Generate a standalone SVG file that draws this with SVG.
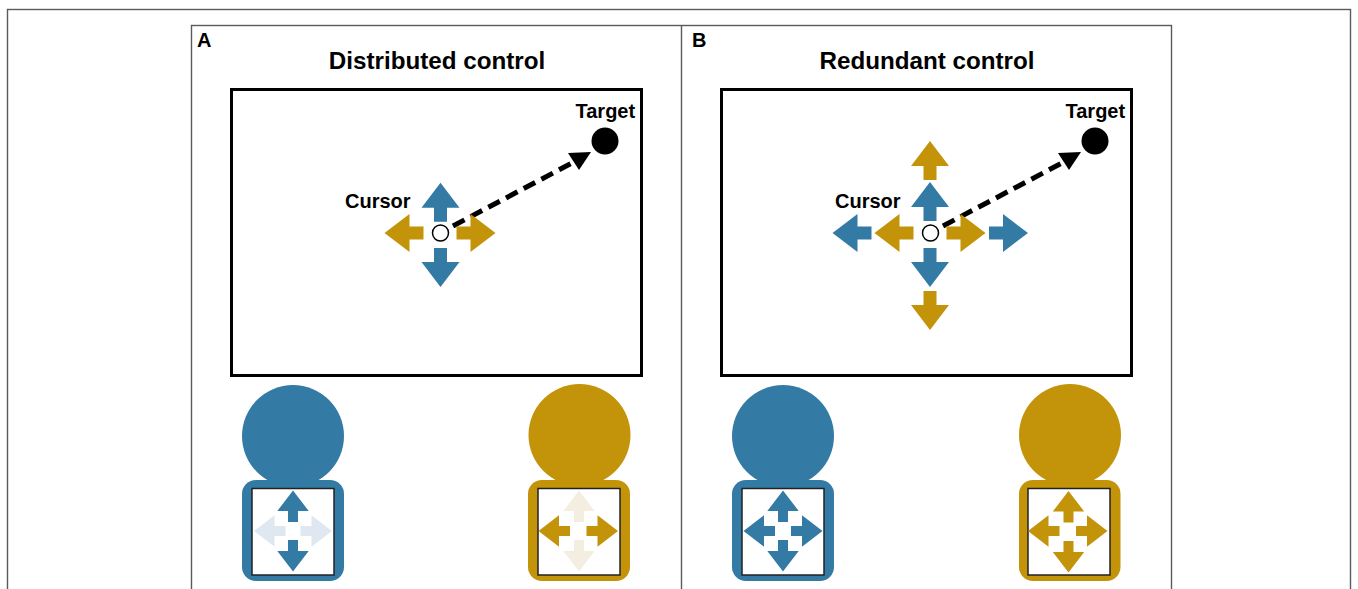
<svg xmlns="http://www.w3.org/2000/svg" xmlns:xlink="http://www.w3.org/1999/xlink" width="1358" height="589" viewBox="0 0 1358 589">
<style>
text{font-family:"Liberation Sans",Arial,sans-serif;font-weight:bold;fill:#000}
.title{font-size:24.2px;text-anchor:middle}
.label{font-size:20px}
.tag{font-size:20px}
.frame{fill:none;stroke:#5a5a5a;stroke-width:1.4}
.screen{fill:#fff;stroke:#000;stroke-width:3}
.blue{fill:#337aa5}
.gold{fill:#c39309}
.paleblue{fill:#dfe8f1}
.palegold{fill:#f3eee0}
.inner{fill:#fff;stroke:#222;stroke-width:1.5}
.cur{fill:#fff;stroke:#000;stroke-width:1.5}
.dash{fill:none;stroke:#000;stroke-width:5;stroke-dasharray:13 7}
</style>
<defs>
<path id="big" d="M0,-6.5H14V-19L39,0L14,19V6.5H0Z"/>
<path id="mini" d="M0,-5H11V-15.700L31.500,0L11,15.700V5H0Z"/>
</defs>
<rect width="1358" height="589" fill="#fff"/>
<g id="frames">
<rect class="frame" x="7.5" y="9.5" width="1343" height="600"/>
<rect class="frame" x="191.5" y="25.5" width="980" height="600"/>
<line class="frame" x1="681.5" y1="25" x2="681.5" y2="589"/>
</g>
<g id="panel-a-screen">
<rect class="screen" x="231.5" y="89.5" width="410" height="286"/>
<text class="tag" x="197" y="47">A</text>
<text class="title" x="437" y="69">Distributed control</text>
</g>
<g id="panel-b-screen">
<rect class="screen" x="721.5" y="89.5" width="410" height="286"/>
<text class="tag" x="692" y="47">B</text>
<text class="title" x="927" y="69">Redundant control</text>
</g>
<g id="connectors">
<line class="dash" x1="453" y1="226" x2="571" y2="163.500"/>
<path d="M568,153L591,152L579,170Z" fill="#000"/>
<line class="dash" x1="943" y1="226" x2="1061" y2="163.500"/>
<path d="M1058,153L1081,152L1069,170Z" fill="#000"/>
</g>
<g id="cursor-a">
<use xlink:href="#big" class="blue" transform="translate(440.5,221.7) rotate(-90)"/>
<use xlink:href="#big" class="blue" transform="translate(440.5,248) rotate(90)"/>
<use xlink:href="#big" class="gold" transform="translate(423.5,233) rotate(180)"/>
<use xlink:href="#big" class="gold" transform="translate(456.5,233)"/>
<circle class="cur" cx="440.5" cy="233" r="8"/>
<text class="label" x="345" y="208">Cursor</text>
</g>
<g id="target-a">
<circle cx="605" cy="141" r="13.5" fill="#000"/>
<text class="label" x="575.5" y="118">Target</text>
</g>
<g id="cursor-b">
<use xlink:href="#big" class="gold" transform="translate(930,180) rotate(-90)"/>
<use xlink:href="#big" class="blue" transform="translate(930,221) rotate(-90)"/>
<use xlink:href="#big" class="blue" transform="translate(930,248) rotate(90)"/>
<use xlink:href="#big" class="gold" transform="translate(930,291) rotate(90)"/>
<use xlink:href="#big" class="blue" transform="translate(871.5,233) rotate(180)"/>
<use xlink:href="#big" class="gold" transform="translate(913.5,233) rotate(180)"/>
<use xlink:href="#big" class="gold" transform="translate(946.5,233)"/>
<use xlink:href="#big" class="blue" transform="translate(989,233)"/>
<circle class="cur" cx="930.5" cy="233" r="8"/>
<text class="label" x="835" y="208">Cursor</text>
</g>
<g id="target-b">
<circle cx="1095" cy="141" r="13.5" fill="#000"/>
<text class="label" x="1065.5" y="118">Target</text>
</g>
<g id="player-a-blue">
<circle class="blue" cx="293" cy="436" r="51"/>
<rect class="blue" x="242" y="480" width="102" height="101" rx="14"/>
<rect class="inner" x="252" y="488.5" width="82" height="86.5"/>
<use xlink:href="#mini" class="blue" transform="translate(293,522) rotate(-90)"/>
<use xlink:href="#mini" class="blue" transform="translate(293,540) rotate(90)"/>
<use xlink:href="#mini" class="paleblue" transform="translate(285.5,531) rotate(180)"/>
<use xlink:href="#mini" class="paleblue" transform="translate(300.5,531)"/>
</g>
<g id="player-a-gold">
<circle class="gold" cx="579.5" cy="435" r="51"/>
<rect class="gold" x="528" y="480" width="102" height="101" rx="14"/>
<rect class="inner" x="538" y="488.5" width="82" height="86.5"/>
<use xlink:href="#mini" class="palegold" transform="translate(579,522) rotate(-90)"/>
<use xlink:href="#mini" class="palegold" transform="translate(579,540) rotate(90)"/>
<use xlink:href="#mini" class="gold" transform="translate(570,531) rotate(180)"/>
<use xlink:href="#mini" class="gold" transform="translate(586.5,531)"/>
</g>
<g id="player-b-blue">
<circle class="blue" cx="783" cy="436" r="51"/>
<rect class="blue" x="732" y="480" width="102" height="101" rx="14"/>
<rect class="inner" x="742" y="488.5" width="82" height="86.5"/>
<use xlink:href="#mini" class="blue" transform="translate(783,522) rotate(-90)"/>
<use xlink:href="#mini" class="blue" transform="translate(783,540) rotate(90)"/>
<use xlink:href="#mini" class="blue" transform="translate(775,531) rotate(180)"/>
<use xlink:href="#mini" class="blue" transform="translate(791,531)"/>
</g>
<g id="player-b-gold">
<circle class="gold" cx="1070" cy="435" r="51"/>
<rect class="gold" x="1019" y="480" width="101.500" height="101" rx="14"/>
<rect class="inner" x="1028" y="488.5" width="82" height="86.5"/>
<use xlink:href="#mini" class="gold" transform="translate(1068.500,522.500) rotate(-90)"/>
<use xlink:href="#mini" class="gold" transform="translate(1068.500,541) rotate(90)"/>
<use xlink:href="#mini" class="gold" transform="translate(1059.500,531) rotate(180)"/>
<use xlink:href="#mini" class="gold" transform="translate(1076,531)"/>
</g>
</svg>
